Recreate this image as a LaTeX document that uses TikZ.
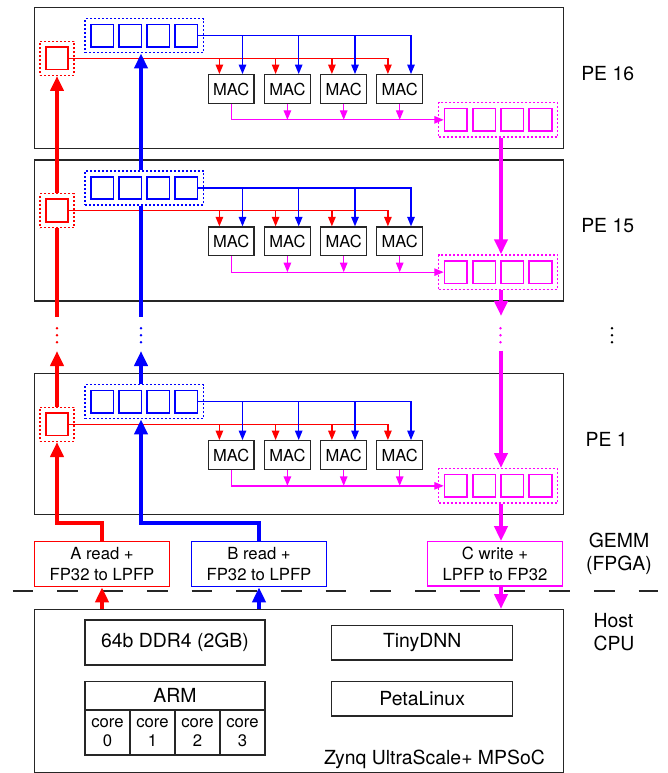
\documentclass[tikz,border=0pt]{standalone}
\usepackage{fontspec}
\setmainfont{TeX Gyre Heros}
\usetikzlibrary{arrows.meta}
\definecolor{mag}{RGB}{255,0,255}
\definecolor{rd}{RGB}{255,0,0}
\definecolor{bl}{RGB}{0,0,255}
\newcommand{\fsmall}{\fontsize{16.7}{20.5}\selectfont}
\newcommand{\fbig}{\fontsize{19.4}{23.3}\selectfont}
\tikzset{
  pebox/.style={draw=black!85, line width=1.2pt, inner sep=0pt},
  blk/.style={draw=black!85, line width=1.2pt, inner sep=0pt, font=\fbig},
  sqr/.style={draw, line width=1.7pt, minimum size=22.6pt, inner sep=0pt},
  dotbox/.style={draw, line width=1.4pt, dash pattern=on 2pt off 2pt, inner sep=0pt},
  macbox/.style={draw=black!85, line width=1.2pt, minimum width=45.7pt, minimum height=28.7pt, inner sep=0pt, font=\fontsize{16.5}{19}\selectfont},
  iobox/.style={draw, line width=1.2pt, minimum height=45pt, inner sep=0pt, align=center, font=\fsmall},
  thinarrow/.style={line width=1.3pt, -{Triangle[length=9.5pt,width=7.5pt]}},
  thickarrow/.style={line width=4pt, -{Triangle[length=15pt,width=13pt]}},
  thickline/.style={line width=4pt},
  sepline/.style={draw=black!85, line width=1.2pt, dash pattern=on 20.7pt off 24pt},
  lbl/.style={font=\fbig, inner sep=0pt}
}
\begin{document}
\begin{tikzpicture}[x=1pt,y=-1pt]
\useasboundingbox (0,0) rectangle (667,773);
\coordinate (bx) at (141,0);
\coordinate (mx) at (501,0);

\foreach \p/\ptop in {16/7, 15/159.3, 1/373}{
  \node[pebox, anchor=north west, minimum width=529pt, minimum height=141pt] (pe\p) at (34,\ptop) {};
  % red A register
  \node[sqr, draw=rd] (ra\p) at (57,\ptop+51.3) {};
  \node[dotbox, draw=rd, minimum size=34pt] (rd\p) at (57,\ptop+51.3) {};
  % blue B registers
  \foreach \k/\xx in {1/102.1,2/130.2,3/158.2,4/186.3}{
    \node[sqr, draw=bl] (b\p-\k) at (\xx,\ptop+28.7) {};
  }
  \node[dotbox, draw=bl, minimum width=118.3pt, minimum height=34pt] (bd\p) at (144.2,\ptop+28.7) {};
  % magenta C registers
  \foreach \k/\xx in {1/455.9,2/484.1,3/512.3,4/540.5}{
    \node[sqr, draw=mag] (m\p-\k) at (\xx,\ptop+112.85) {};
  }
  \node[dotbox, draw=mag, minimum width=119pt, minimum height=34.3pt] (md\p) at (498.2,\ptop+112.85) {};
  % MACs
  \foreach \k/\xx in {1/231.2,2/287.4,3/343.7,4/399.7}{
    \node[macbox] (mac\p-\k) at (\xx,\ptop+82) {MAC};
  }
  % buses
  \draw[thinarrow, rd] (ra\p.east) -| ([xshift=-11.8pt]mac\p-4.north);
  \draw[thinarrow, bl] (b\p-4.east) -| ([xshift=11.3pt]mac\p-4.north);
  \foreach \k in {1,2,3}{
    \draw[thinarrow, rd] ([xshift=-11.8pt]mac\p-\k.north |- ra\p.east) -- ([xshift=-11.8pt]mac\p-\k.north);
    \draw[thinarrow, bl] ([xshift=11.3pt]mac\p-\k.north |- b\p-4.east) -- ([xshift=11.3pt]mac\p-\k.north);
  }
  \draw[thinarrow, mag] (mac\p-1.south) |- (m\p-1.west);
  \foreach \k in {2,3,4}{
    \draw[thinarrow, mag] (mac\p-\k.south) -- (mac\p-\k.south |- m\p-1.west);
  }
}

% PE15 -> PE16
\draw[thickarrow, rd] (rd15.north) -- (rd16.south);
\draw[thickarrow, bl] (bd15.north -| bx) -- (bd16.south -| bx);
\draw[thickarrow, mag] (md16.south -| mx) -- (md15.north -| mx);

% gap between PE15 and PE1
\coordinate (rup) at (57,316.7);
\coordinate (rtip) at (57,351);
\coordinate (bup) at (141,316.7);
\coordinate (btip) at (141,351);
\coordinate (mtip) at (501,316);
\coordinate (mlow) at (501,350.7);
\draw[thickline, rd] (rup) -- (rd15.south);
\draw[thickarrow, rd] (rd1.north) -- (rtip);
\draw[thickline, bl] (bup) -- (bd15.south -| bx);
\draw[thickarrow, bl] (bd1.north -| bx) -- (btip);
\draw[thickarrow, mag] (md15.south -| mx) -- (mtip);
\draw[thickarrow, mag] (mlow) -- (md1.north -| mx);
\foreach \yy in {328.3,335.3,342.3}{
  \fill[rd] (57,\yy) circle (1.4pt);
  \fill[bl] (141,\yy) circle (1.4pt);
  \fill[mag] (500.5,\yy) circle (1.4pt);
  \fill[black] (612,\yy) circle (1.4pt);
}

% labels
\node[lbl] (l16) at (607.7,74) {PE 16};
\node[lbl] (l15) at (607.7,226) {PE 15};
\node[lbl] (l1) at (606.7,439.3) {PE 1};
\node[lbl, align=center] (gemm) at (619,553.8) {GEMM\\(FPGA)};
\node[lbl, align=left, anchor=west] (hostlbl) at (593.3,632) {Host\\CPU};

% GEMM interface boxes
\node[iobox, draw=rd, minimum width=134.6pt] (aread) at (102,564.2) {A read +\\FP32 to LPFP};
\node[iobox, draw=bl, minimum width=135.4pt] (bread) at (259,564.2) {B read +\\FP32 to LPFP};
\node[iobox, draw=mag, minimum width=134.6pt, minimum height=44.3pt] (cwrite) at (495,563.9) {C write +\\LPFP to FP32};

\draw[thickarrow, rd] (aread.north) -- ++(0,-17.7) -| (rd1.south);
\draw[thickarrow, bl] (bread.north) -- ++(0,-17.7) -| (bd1.south -| bx);
\draw[thickarrow, mag] (md1.south -| mx) -- (cwrite.north -| mx);

% separator
\coordinate (sepl) at (12.7,591);
\coordinate (sepr) at (658,591);
\draw[sepline] (sepl) -- (sepr);

% host
\node[pebox, anchor=north west, minimum width=529pt, minimum height=163pt] (host) at (34,609) {};
\draw[thickarrow, rd] (aread.south |- host.north) -- (aread.south);
\draw[thickarrow, bl] (bread.south |- host.north) -- (bread.south);
\draw[thickarrow, mag] (cwrite.south -| mx) -- (host.north -| mx);

\node[blk, minimum width=180pt, minimum height=45pt] (ddr) at (175,642.5) {64b DDR4 (2GB)};
\node[blk, minimum width=180pt, minimum height=28.3pt] (arm) at (175,695.85) {ARM};
\foreach \k/\xx in {0/107.5,1/152.5,2/197.5,3/242.5}{
  \node[blk, minimum width=45pt, minimum height=45pt, align=center, font=\fontsize{16.7}{19.5}\selectfont] (core\k) at (\xx,732.5) {core\\\k};
}
\node[blk, minimum width=181pt, minimum height=34.3pt] (tiny) at (422.2,642.85) {TinyDNN};
\node[blk, minimum width=181pt, minimum height=34.3pt] (peta) at (422.2,698.85) {PetaLinux};
\node[lbl, anchor=base east] (zynq) at (545,764.3) {Zynq UltraScale+ MPSoC};
\end{tikzpicture}
\end{document}
